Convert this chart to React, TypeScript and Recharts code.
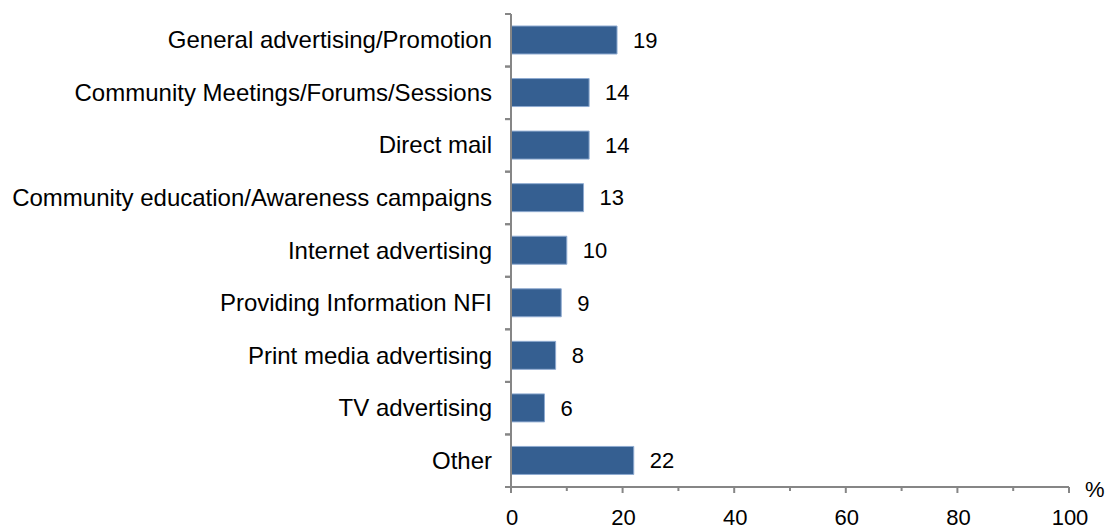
import React from "react";
import { BarChart, Bar, XAxis, YAxis, LabelList } from "recharts";

const categories = [
  "General advertising/Promotion",
  "Community Meetings/Forums/Sessions",
  "Direct mail",
  "Community education/Awareness campaigns",
  "Internet advertising",
  "Providing Information NFI",
  "Print media advertising",
  "TV advertising",
  "Other",
];
const values = [19, 14, 14, 13, 10, 9, 8, 6, 22];
const xTicks = [0, 10, 20, 30, 40, 50, 60, 70, 80, 90, 100];

const data = categories.map((name, i) => ({ name, value: values[i] }));

const AXIS = "#868686";
const FONT = "'Liberation Sans', Arial, sans-serif";

const XTick = (props: any) => {
  const { x, y, payload } = props;
  const major = payload.value % 20 === 0;
  return (
    <g>
      <line x1={x} x2={x} y1={y} y2={y + (major ? 6 : 4)} stroke={AXIS} strokeWidth={2} />
      {major && (
        <text x={x + 1} y={y + 38} textAnchor="middle" fill="#000" fontSize={22} fontFamily={FONT}>
          {payload.value}
        </text>
      )}
    </g>
  );
};

const YTick = (props: any) => {
  const { x, y, payload } = props;
  const half = 473 / categories.length / 2;
  return (
    <g>
      <line x1={x - 6} x2={x} y1={y - half} y2={y - half} stroke={AXIS} strokeWidth={2} />
      <line x1={x - 6} x2={x} y1={y + half} y2={y + half} stroke={AXIS} strokeWidth={2} />
      <text x={x - 19} y={y + 8} textAnchor="end" fill="#000" fontSize={24} fontFamily={FONT}>
        {payload.value}
      </text>
    </g>
  );
};

export default function App() {
  return (
    <div style={{ position: "absolute", left: 0, top: 0, width: 1106, height: 526 }}>
      <BarChart
        width={1106}
        height={526}
        data={data}
        layout="vertical"
        margin={{ top: 14, right: 37, bottom: 0, left: 0 }}
        barSize={28}
      >
        <XAxis
          type="number"
          domain={[0, 100]}
          ticks={xTicks}
          interval={0}
          height={39}
          stroke={AXIS}
          strokeWidth={2}
          tickLine={false}
          tickSize={0}
          tickMargin={0}
          tick={<XTick />}
        />
        <YAxis
          type="category"
          dataKey="name"
          width={511}
          stroke={AXIS}
          strokeWidth={2}
          tickLine={false}
          tickSize={0}
          tickMargin={0}
          interval={0}
          tick={<YTick />}
        />
        <Bar dataKey="value" fill="#355f91" stroke="#8eaad0" strokeWidth={1} isAnimationActive={false}>
          <LabelList dataKey="value" position="right" offset={16} fill="#000" fontSize={22} fontFamily={FONT} />
        </Bar>
      </BarChart>
      <svg
        width={1106}
        height={526}
        style={{ position: "absolute", left: 0, top: 0, pointerEvents: "none" }}
      >
        <text x={1085} y={497} fontSize={22} fontFamily={FONT} fill="#000">
          %
        </text>
      </svg>
    </div>
  );
}
